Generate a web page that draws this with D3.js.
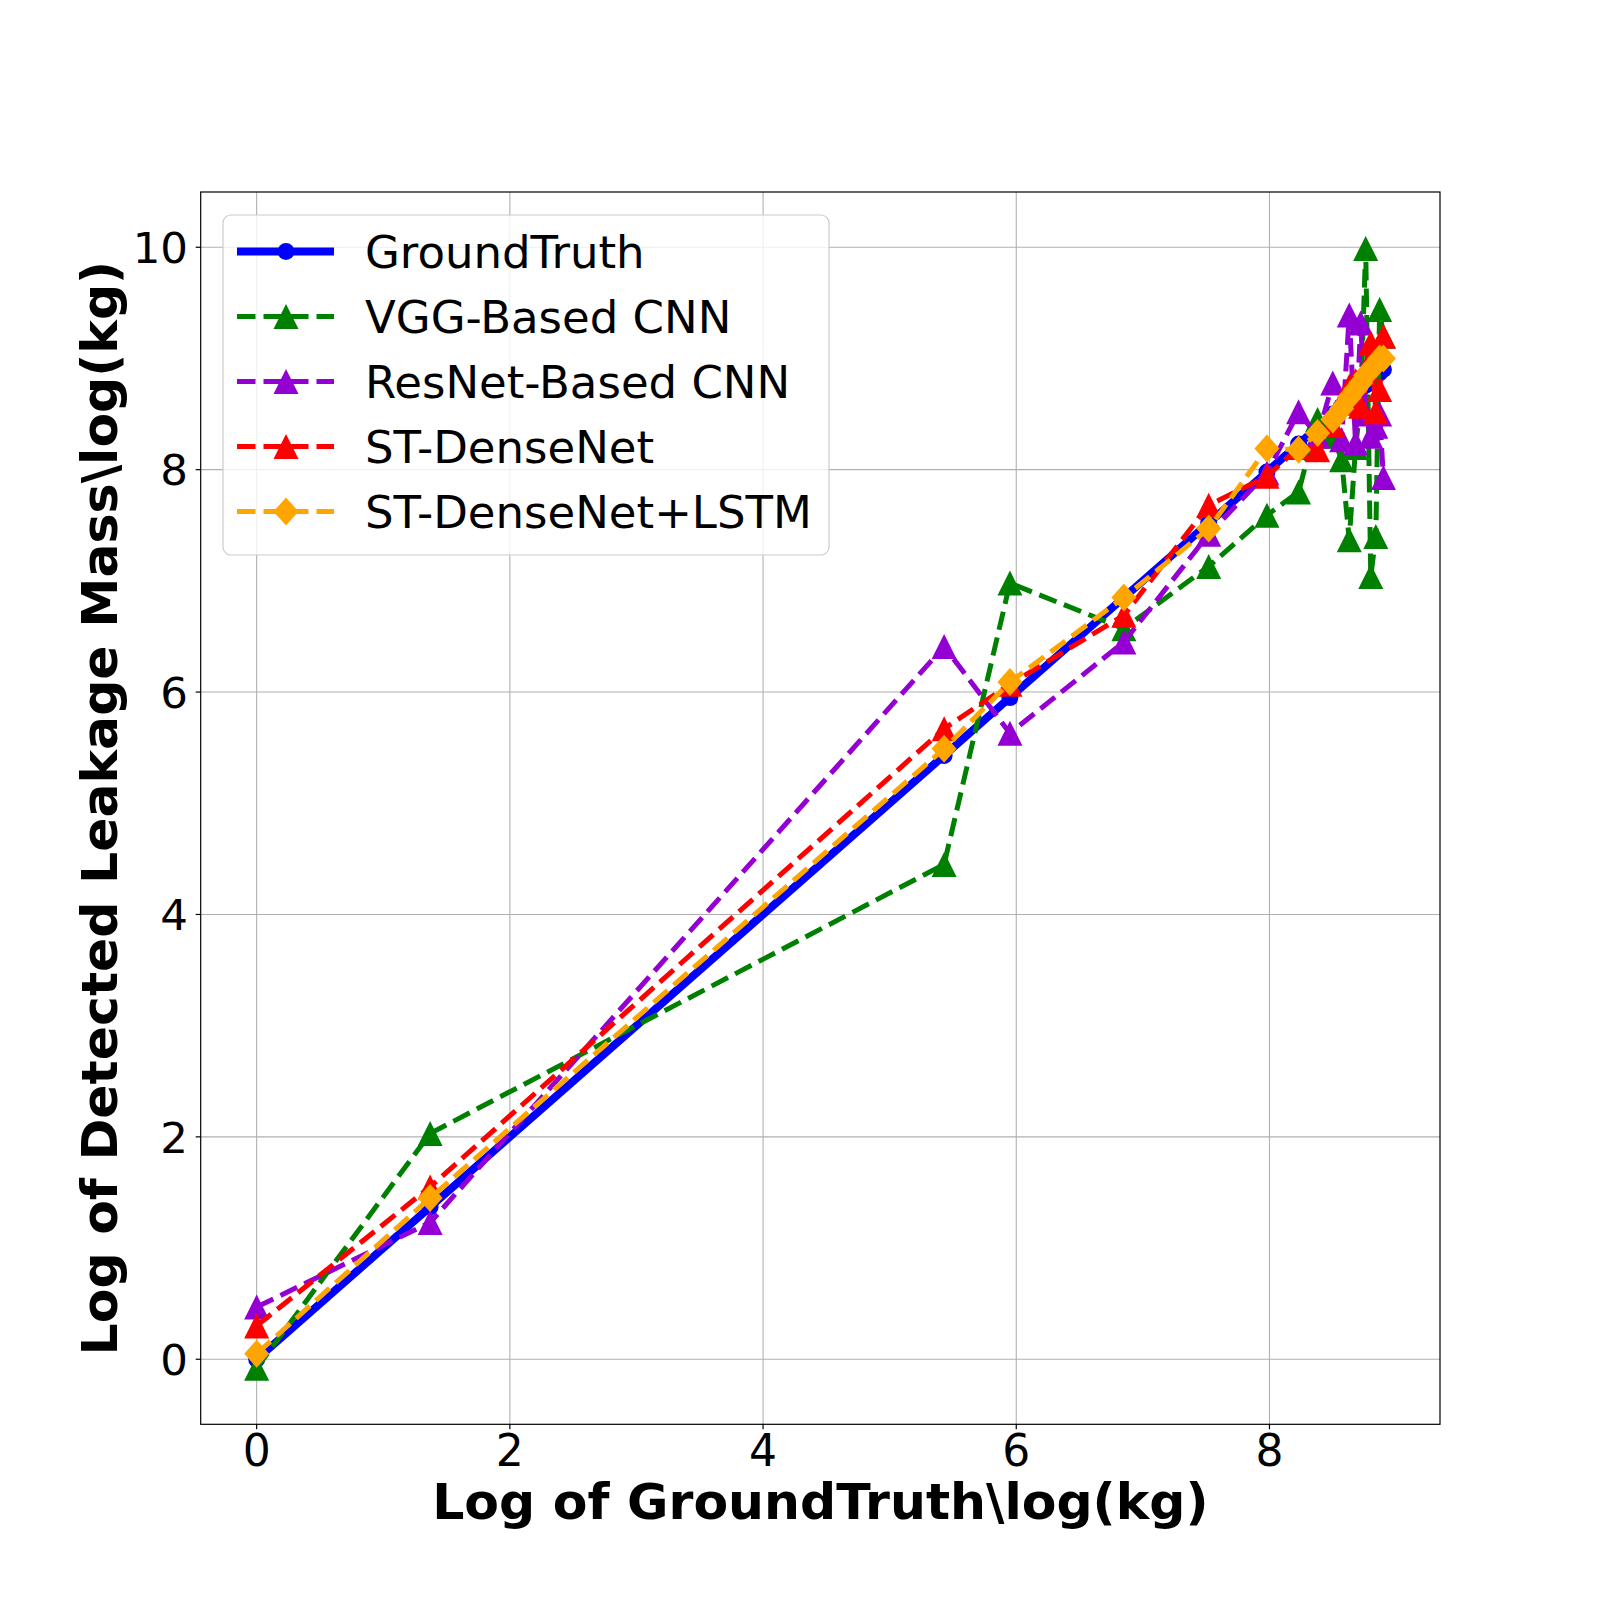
<html>
<head>
<script src="https://cdn.jsdelivr.net/npm/d3@7"></script>
<style>
body { margin: 0; background: #fff; }
text { font-family: "DejaVu Sans", sans-serif; }
</style>
</head>
<body>
<svg width="1600" height="1600"></svg>
<script>
// ground truth log masses (shared x for every series)
var groundX = [0, 1.37, 5.43, 5.95, 6.85, 7.52, 7.98, 8.23, 8.38, 8.50, 8.57, 8.63, 8.68, 8.72, 8.76, 8.80, 8.84, 8.87, 8.90];
var groundTruth = groundX.slice();
var vggCnn     = [-0.08, 2.03, 4.45, 6.98, 6.57, 7.13, 7.59, 7.80, 8.45, 8.30, 8.09, 7.37, 8.20, 8.60, 9.99, 7.04, 7.40, 9.44, 9.20];
var resnetCnn  = [0.47, 1.23, 6.41, 5.63, 6.45, 7.42, 7.97, 8.52, 8.30, 8.78, 8.27, 9.39, 8.24, 9.32, 8.50, 8.30, 8.39, 8.50, 7.93];
var stDense    = [0.30, 1.55, 5.67, 6.07, 6.69, 7.68, 7.94, 8.20, 8.18, 8.40, 8.60, 8.75, 8.80, 8.57, 8.90, 9.14, 8.52, 8.72, 9.20];
var stDenseLstm= [0.05, 1.45, 5.49, 6.09, 6.85, 7.47, 8.19, 8.18, 8.33, 8.45, 8.55, 8.65, 8.72, 8.78, 8.85, 8.90, 8.95, 9.00, 9.00];

var seriesNames = ["GroundTruth", "VGG-Based CNN", "ResNet-Based CNN", "ST-DenseNet", "ST-DenseNet+LSTM"];
var seriesVals = [groundTruth, vggCnn, resnetCnn, stDense, stDenseLstm];
var colors = ["#0000ff", "#008000", "#9400d3", "#ff0000", "#ffa500"];
var markers = ["circle", "triangle", "triangle", "triangle", "diamond"];
var xTicks = [0, 2, 4, 6, 8];
var yTicks = [0, 2, 4, 6, 8, 10];

var svg = d3.select("svg");
var axL = 200.7, axR = 1440, axT = 192, axB = 1424.3;

var x = d3.scaleLinear().domain([-0.442, 9.347]).range([axL, axR]);
var y = d3.scaleLinear().domain([-0.585, 10.497]).range([axB, axT]);

// grid
var g = svg.append("g");
g.selectAll(".gx").data(xTicks).enter().append("line")
  .attr("x1", d => x(d)).attr("x2", d => x(d)).attr("y1", axT).attr("y2", axB)
  .attr("stroke", "#b0b0b0").attr("stroke-width", 1.1);
g.selectAll(".gy").data(yTicks).enter().append("line")
  .attr("y1", d => y(d)).attr("y2", d => y(d)).attr("x1", axL).attr("x2", axR)
  .attr("stroke", "#b0b0b0").attr("stroke-width", 1.1);

svg.append("clipPath").attr("id", "clip").append("rect")
  .attr("x", axL).attr("y", axT).attr("width", axR - axL).attr("height", axB - axT);

var plot = svg.append("g").attr("clip-path", "url(#clip)");

function markerPath(type) {
  if (type === "circle") return d3.symbol().type(d3.symbolCircle).size(Math.PI * 8.5 * 8.5)();
  if (type === "triangle") return "M0,-12.5L12.5,12.5L-12.5,12.5Z";
  return "M0,-14L12.5,0L0,14L-12.5,0Z";
}

seriesVals.forEach(function(vals, i) {
  var pts = vals.map((v, j) => [groundX[j], v]);
  var line = d3.line().x(d => x(d[0])).y(d => y(d[1]));
  plot.append("path").datum(pts)
    .attr("d", line)
    .attr("fill", "none")
    .attr("stroke", colors[i])
    .attr("stroke-width", i === 0 ? 8 : 5)
    .attr("stroke-dasharray", i === 0 ? null : "18.5,8")
    .attr("stroke-linejoin", "round");
  plot.selectAll(".m" + i).data(pts).enter().append("path")
    .attr("d", markerPath(markers[i]))
    .attr("transform", d => "translate(" + x(d[0]) + "," + y(d[1]) + ")")
    .attr("fill", colors[i]);
});

// spines
svg.append("rect").attr("x", axL).attr("y", axT).attr("width", axR - axL).attr("height", axB - axT)
  .attr("fill", "none").attr("stroke", "#000").attr("stroke-width", 1.2);

// ticks
var xAxis = svg.append("g");
xAxis.selectAll("line").data(xTicks).enter().append("line")
  .attr("x1", d => x(d)).attr("x2", d => x(d)).attr("y1", axB).attr("y2", axB + 5)
  .attr("stroke", "#000").attr("stroke-width", 1.2);
xAxis.selectAll("text").data(xTicks).enter().append("text")
  .attr("x", d => x(d)).attr("y", 1466).attr("text-anchor", "middle")
  .attr("font-size", 44).text(d => d);

var yAxis = svg.append("g");
yAxis.selectAll("line").data(yTicks).enter().append("line")
  .attr("y1", d => y(d)).attr("y2", d => y(d)).attr("x1", axL - 5).attr("x2", axL)
  .attr("stroke", "#000").attr("stroke-width", 1.2);
yAxis.selectAll("text").data(yTicks).enter().append("text")
  .attr("x", 188).attr("y", d => y(d)).attr("dy", "0.36em").attr("text-anchor", "end")
  .attr("font-size", 43.5).text(d => d);

// axis labels
svg.append("text").attr("x", (axL + axR) / 2).attr("y", 1519).attr("text-anchor", "middle")
  .attr("font-size", 50.5).attr("font-weight", "bold").text("Log of GroundTruth\\log(kg)");
svg.append("text").attr("transform", "translate(117," + (axT + axB) / 2 + ") rotate(-90)")
  .attr("text-anchor", "middle")
  .attr("font-size", 50.5).attr("font-weight", "bold").text("Log of Detected Leakage Mass\\log(kg)");

// legend
var leg = svg.append("g");
leg.append("rect").attr("x", 223).attr("y", 215).attr("width", 606).attr("height", 340)
  .attr("rx", 8).attr("fill", "#fff").attr("fill-opacity", 0.8)
  .attr("stroke", "#cccccc").attr("stroke-width", 1.2);
seriesNames.forEach(function(name, i) {
  var ly = 251.5 + i * 65;
  leg.append("line").attr("x1", 237).attr("x2", 334).attr("y1", ly).attr("y2", ly)
    .attr("stroke", colors[i]).attr("stroke-width", i === 0 ? 8 : 5)
    .attr("stroke-dasharray", i === 0 ? null : "18.5,8");
  leg.append("path").attr("d", markerPath(markers[i]))
    .attr("transform", "translate(286," + ly + ")").attr("fill", colors[i]);
  leg.append("text").attr("x", 365).attr("y", ly).attr("dy", "0.36em")
    .attr("font-size", 45).text(name);
});
</script>
</body>
</html>
